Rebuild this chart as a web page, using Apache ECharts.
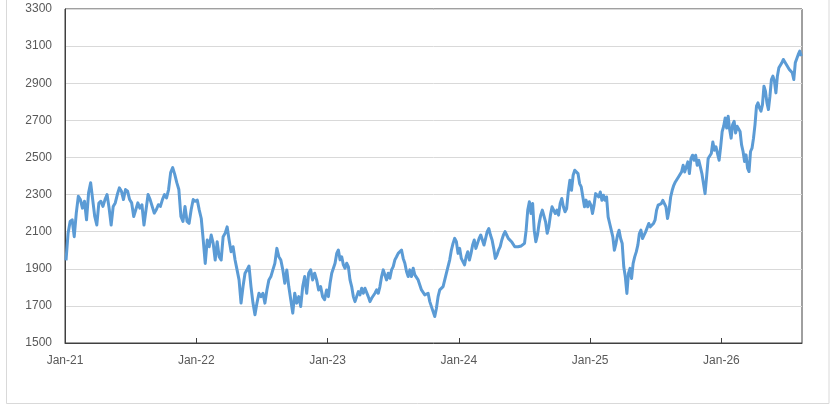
<!DOCTYPE html>
<html>
<head>
<meta charset="utf-8">
<script src="https://cdn.jsdelivr.net/npm/echarts@6/dist/echarts.min.js"></script>
<style>
html,body{margin:0;padding:0;background:#fff;}
#chart{width:834px;height:412px;}
</style>
</head>
<body>
<div id="chart"></div>
<script>
// Values, one array per calendar year (points spread across the year)
const v2021 = [1945,2091,2155,2164,2073,2200,2291,2273,2227,2264,2164,2309,2364,2273,2182,2136,2254,2264,2236,2273,2300,2227,2136,2236,2255,2300,2336,2318,2273,2327,2318,2273,2255,2182,2218,2255,2227,2245,2136,2218,2300,2273,2236,2200,2218,2245,2236,2273,2300,2282,2327,2418,2445,2409,2364,2327,2182,2155,2236,2155,2145,2218,2273,2264];
const v2022 = [2270,2216,2171,2055,1929,2055,2019,2082,2037,1947,2046,1965,1947,2073,2091,2126,2055,1992,2019,1947,1894,1840,1715,1804,1876,1894,1915,1804,1715,1652,1715,1768,1750,1768,1715,1786,1840,1858,1894,1929,2010,1965,1947,1894,1822,1894,1804,1733,1661,1768,1715,1750,1697,1804,1858,1768,1876,1894,1840,1876,1840,1786,1804,1750,1733,1786];
const v2023 = [1750,1822,1876,1885,1930,1983,2001,1948,1965,1921,1903,1930,1912,1840,1804,1750,1723,1750,1777,1759,1795,1768,1795,1786,1750,1723,1741,1750,1768,1786,1768,1804,1858,1894,1885,1840,1876,1849,1894,1912,1948,1965,1983,1974,2001,1956,1930,1885,1858,1894,1858,1903,1867,1858,1840,1813,1786,1795,1759,1750,1768,1723,1714,1669,1643,1687,1750,1786,1795,1804,1813,1876,1885,1948,2001,2037,2064,2046,1983];
const v2024 = [2010,1956,1947,1921,1965,1992,1947,1983,2028,2055,2010,2037,2064,2082,2073,2028,2064,2100,2117,2082,2055,2010,1956,1974,2001,2019,2055,2082,2100,2082,2064,2055,2046,2037,2019,2010,2019,2016,2023,2028,2037,2108,2216,2261,2198,2252,2108,2046,2082,2144,2189,2216,2207,2153,2091,2126,2189,2234,2225,2198,2216,2189,2252,2279,2234,2207,2225,2314,2377,2323,2404,2431,2422,2413,2359,2341,2287,2234,2270,2234,2261];
const v2025 = [2243,2198,2243,2305,2314,2287,2314,2269,2296,2269,2287,2180,2144,2108,2072,2000,2036,2081,2108,2063,2036,1911,1857,1767,1875,1902,1848,1929,1964,1991,2027,2090,2108,2063,2081,2099,2108,2144,2126,2117,2144,2162,2216,2243,2234,2251,2269,2278,2234,2171,2216,2287,2323,2350,2368,2377,2395,2404,2422,2458,2422,2449,2476,2413,2494,2512,2485,2512,2458,2485,2449,2413,2359,2305,2395,2494,2485,2521,2583,2539,2557,2521,2485,2557];
const v2026 = [2640,2668,2713,2659,2722,2650,2604,2677,2695,2632,2668,2677,2640,2568,2532,2478,2514,2442,2424,2532,2550,2604,2677,2776,2794,2767,2749,2785,2884,2857,2794,2758,2830,2920,2938,2911,2848,2938,2983,2992,3010,3028,3019,3001,2992,2974,2983,2956,2920,3010,3019,3055,3073,3046];

const years = [2021, 2022, 2023, 2024, 2025, 2026];
const yearValues = [v2021, v2022, v2023, v2024, v2025, v2026];
const yearSpans = [1, 1, 1, 1, 1, 0.6136]; // fraction of each year covered
const axisStart = 2021;
const axisEnd = 2026.6136;
const yTicks = [1500, 1700, 1900, 2100, 2300, 2500, 2700, 2900, 3100, 3300];

const data = [];
years.forEach((yr, k) => {
  const vals = yearValues[k];
  const n = vals.length;
  vals.forEach((v, i) => {
    data.push([yr + yearSpans[k] * (i + 0.5) / n, v]);
  });
});

const chart = echarts.init(document.getElementById('chart'), null, {renderer: 'canvas'});
const font = 'Liberation Sans, Arial, sans-serif';
chart.setOption({
  animation: false,
  backgroundColor: '#ffffff',
  grid: {
    left: 65, right: 32, top: 9, bottom: 69,
    show: true, borderColor: '#404040', borderWidth: 1, backgroundColor: 'transparent'
  },
  graphic: [{
    type: 'rect',
    shape: {x: 6.5, y: -5, width: 822.5, height: 408.5},
    style: {fill: 'none', stroke: '#d9d9d9', lineWidth: 1},
    silent: true, z: -1
  }],
  xAxis: {
    type: 'value',
    min: axisStart, max: axisEnd, interval: 1,
    axisLine: {show: true, lineStyle: {color: '#404040', width: 1}},
    axisTick: {show: true, inside: true, length: 5, lineStyle: {color: '#404040'}},
    splitLine: {show: false},
    axisLabel: {
      color: '#595959', fontFamily: font, fontSize: 12, margin: 12,
      showMaxLabel: false,
      formatter: function (v) {
        if (Math.abs(v - Math.round(v)) > 1e-6) return '';
        return 'Jan-' + String(Math.round(v)).slice(2);
      }
    }
  },
  yAxis: {
    type: 'value',
    min: yTicks[0], max: yTicks[yTicks.length - 1], interval: 200,
    axisLine: {show: true, lineStyle: {color: '#404040', width: 1}},
    axisTick: {show: false},
    splitLine: {show: true, lineStyle: {color: '#d9d9d9', width: 1}},
    axisLabel: {
      color: '#595959', fontFamily: font, fontSize: 12, margin: 13,
      formatter: function (v) { return String(v); }
    }
  },
  series: [{
    type: 'line',
    data: data,
    showSymbol: false,
    symbol: 'none',
    lineStyle: {color: '#5b9bd5', width: 3, join: 'round'},
    z: 3
  }]
});
</script>
</body>
</html>
